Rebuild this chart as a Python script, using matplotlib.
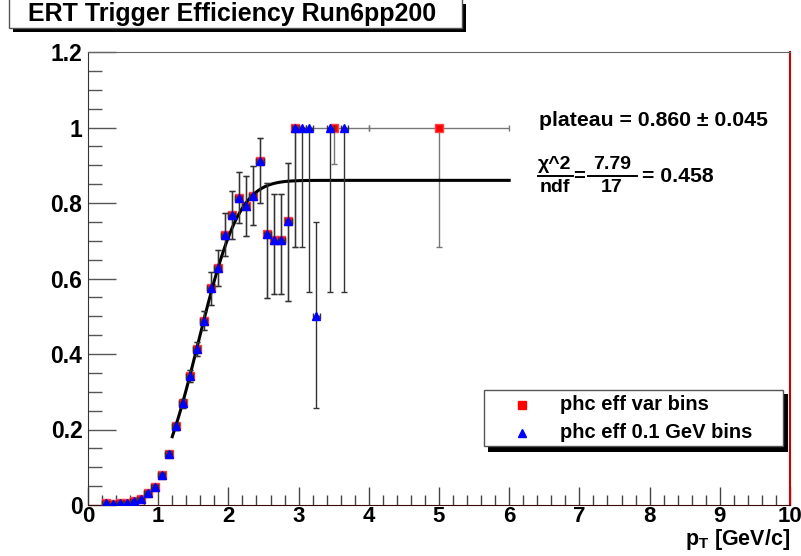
import math
import numpy as np
import matplotlib
matplotlib.use("Agg")
import matplotlib.pyplot as plt
from matplotlib.patches import Rectangle
from matplotlib.lines import Line2D

plt.rcParams['font.family'] = ['Liberation Sans', 'DejaVu Sans']
plt.rcParams['font.weight'] = 'bold'
plt.rcParams['mathtext.fontset'] = 'custom'
plt.rcParams['mathtext.rm'] = 'Liberation Sans:bold'
plt.rcParams['mathtext.bf'] = 'Liberation Sans:bold'
plt.rcParams['mathtext.it'] = 'Liberation Sans:bold:italic'

# --- data ---
# 0.1 GeV bins (blue triangles)
blue_x = [0.25, 0.35, 0.45, 0.55, 0.65, 0.75, 0.85, 0.95, 1.05, 1.15,
          1.25, 1.35, 1.45, 1.55, 1.65, 1.75, 1.85, 1.95, 2.05, 2.15,
          2.25, 2.35, 2.45, 2.55, 2.65, 2.75, 2.85, 2.95, 3.05, 3.15,
          3.25, 3.45, 3.65]
blue_y = [0.004, 0.003, 0.004, 0.006, 0.010, 0.015, 0.032, 0.048, 0.079, 0.134,
          0.208, 0.270, 0.342, 0.413, 0.488, 0.574, 0.627, 0.716, 0.768, 0.814,
          0.792, 0.819, 0.911, 0.717, 0.702, 0.702, 0.752, 1.0, 1.0, 1.0,
          0.5, 1.0, 1.0]
blue_err_lo = [0.002, 0.002, 0.002, 0.002, 0.003, 0.003, 0.004, 0.005, 0.006, 0.008,
               0.010, 0.012, 0.015, 0.018, 0.025, 0.044, 0.048, 0.057, 0.063, 0.068,
               0.080, 0.078, 0.110, 0.169, 0.144, 0.144, 0.212, 0.316, 0.316, 0.435,
               0.243, 0.435, 0.435]
blue_err_hi = [0.002, 0.002, 0.002, 0.002, 0.003, 0.003, 0.004, 0.005, 0.006, 0.008,
               0.010, 0.012, 0.015, 0.018, 0.025, 0.044, 0.048, 0.057, 0.063, 0.068,
               0.080, 0.078, 0.062, 0.135, 0.121, 0.121, 0.153, 0.0, 0.0, 0.0,
               0.250, 0.0, 0.0]
blue_xerr = [0.05] * len(blue_x)

# variable bins (red squares): 0.1 GeV up to 3, then 3-4 and 4-6
red_x = blue_x[:28] + [3.5, 5.0]
red_y = blue_y[:28] + [1.0, 1.0]
red_err_lo = blue_err_lo[:28] + [0.097, 0.316]
red_err_hi = blue_err_hi[:28] + [0.0, 0.0]
red_xerr = [0.05] * 28 + [0.5, 1.0]

# fit result (error function turn-on)
plateau = 0.860
plateau_err = 0.045
fit_mean = 1.57
fit_width = 0.65
fit_range = (1.2, 6.0)
chi2 = 7.79
ndf = 17

x_ticks = list(range(0, 11))
y_ticks = [0, 0.2, 0.4, 0.6, 0.8, 1.0, 1.2]
y_tick_labels = ['0', '0.2', '0.4', '0.6', '0.8', '1', '1.2']

W, H = 801, 556


def fx(px):
    return px / W


def fy(py):
    return 1 - py / H


fig = plt.figure(figsize=(W / 100, H / 100), dpi=100)
fig.patch.set_facecolor('white')
ax = fig.add_axes([fx(88), fy(505), (790 - 88) / W, (505 - 52) / H])

fit_x = np.linspace(fit_range[0], fit_range[1], 400)
erf = np.vectorize(math.erf)
fit_y = plateau * 0.5 * (1 + erf((fit_x - fit_mean) / fit_width))

ax.errorbar(red_x, red_y, xerr=red_xerr, yerr=[red_err_lo, red_err_hi],
            fmt='s', color='#ff0000', mec='#ff4040', ms=5.5, ecolor='#777777',
            elinewidth=1, capsize=2.5, capthick=1, zorder=3)
ax.plot(fit_x, fit_y, color='black', lw=2.2, zorder=3.5)
ax.errorbar(blue_x, blue_y, xerr=blue_xerr, yerr=[blue_err_lo, blue_err_hi],
            fmt='^', color='#0000ff', mec='#0000ff', ms=5.5, ecolor='#333333',
            elinewidth=1, capsize=2.5, capthick=1, zorder=4)

ax.set_xlim(0, 10)
ax.set_ylim(0, 1.2)
ax.set_xticks(x_ticks)
ax.set_xticklabels([str(t) for t in x_ticks])
ax.set_xticks(np.arange(0, 10.01, 0.2), minor=True)
ax.set_yticks(y_ticks)
ax.set_yticklabels(y_tick_labels)
ax.set_yticks(np.arange(0, 1.201, 0.05), minor=True)

ax.tick_params(axis='x', which='major', direction='in', length=13, width=1,
               color='#444444', labelsize=16, pad=1)
ax.tick_params(axis='x', which='minor', direction='in', length=7, width=1,
               color='#444444')
ax.tick_params(axis='y', which='major', direction='in', length=20, width=1,
               color='#555555', labelsize=16.5, pad=4)
ax.tick_params(axis='y', which='minor', direction='in', length=10, width=1,
               color='#555555')
for lab in ax.get_xticklabels() + ax.get_yticklabels():
    lab.set_fontweight('bold')

ax.spines['left'].set_color('#333333')
ax.spines['bottom'].set_color('#3a0a0a')
ax.spines['top'].set_color('#666666')
ax.spines['right'].set_color('#cc0000')
ax.spines['right'].set_linewidth(1.5)

fig.text(fx(790), fy(527), r'p$_{\mathbf{T}}$ [GeV/c]', ha='right', va='top',
         fontsize=15.5, fontweight='bold')

# title box with shadow
fig.add_artist(Rectangle((fx(13), fy(32)), (466 - 13) / W, (32 - 4) / H,
                         transform=fig.transFigure, facecolor='black',
                         edgecolor='none'))
fig.add_artist(Rectangle((fx(9), fy(28)), (462 - 9) / W, 30 / H,
                         transform=fig.transFigure, facecolor='white',
                         edgecolor='#555555', lw=1))
fig.text(fx(28), fy(14), 'ERT Trigger Efficiency Run6pp200', ha='left',
         va='center', fontsize=18, fontweight='bold')

# legend box with shadow
fig.add_artist(Rectangle((fx(488), fy(452)), (788 - 488) / W, (452 - 394) / H,
                         transform=fig.transFigure, facecolor='black',
                         edgecolor='none'))
fig.add_artist(Rectangle((fx(484), fy(446)), (783 - 484) / W, (446 - 390) / H,
                         transform=fig.transFigure, facecolor='white',
                         edgecolor='#555555', lw=1))
fig.add_artist(Line2D([fx(522)], [fy(405)], transform=fig.transFigure,
                      marker='s', ms=5.5, color='#ff0000', ls='none'))
fig.add_artist(Line2D([fx(522)], [fy(433)], transform=fig.transFigure,
                      marker='^', ms=5.5, color='#0000ff', ls='none'))
fig.text(fx(560), fy(405), 'phc eff var bins', ha='left', va='center',
         fontsize=14.5, fontweight='bold')
fig.text(fx(560), fy(433), 'phc eff 0.1 GeV bins', ha='left', va='center',
         fontsize=14.5, fontweight='bold')

# fit results
fig.text(fx(539), fy(120), 'plateau = %.3f \u00b1 %.3f' % (plateau, plateau_err),
         ha='left', va='center', fontsize=15.3, fontweight='bold')
fig.text(fx(555), fy(165), '\u03c7^2', ha='center', va='center', fontsize=14,
         fontweight='bold')
fig.add_artist(Line2D([fx(538), fx(573)], [fy(176), fy(176)],
                      transform=fig.transFigure, color='black', lw=1.4))
fig.text(fx(555), fy(187), 'ndf', ha='center', va='center', fontsize=14,
         fontweight='bold')
fig.text(fx(579), fy(177), '=', ha='center', va='center', fontsize=14.5,
         fontweight='bold')
fig.text(fx(612), fy(165), '%.2f' % chi2, ha='center', va='center',
         fontsize=14, fontweight='bold')
fig.add_artist(Line2D([fx(588), fx(637)], [fy(176), fy(176)],
                      transform=fig.transFigure, color='black', lw=1.4))
fig.text(fx(612), fy(187), '%d' % ndf, ha='center', va='center', fontsize=14,
         fontweight='bold')
fig.text(fx(642), fy(176), '= %.3f' % (chi2 / ndf), ha='left', va='center',
         fontsize=15.3, fontweight='bold')

fig.savefig('out.png', dpi=100)
